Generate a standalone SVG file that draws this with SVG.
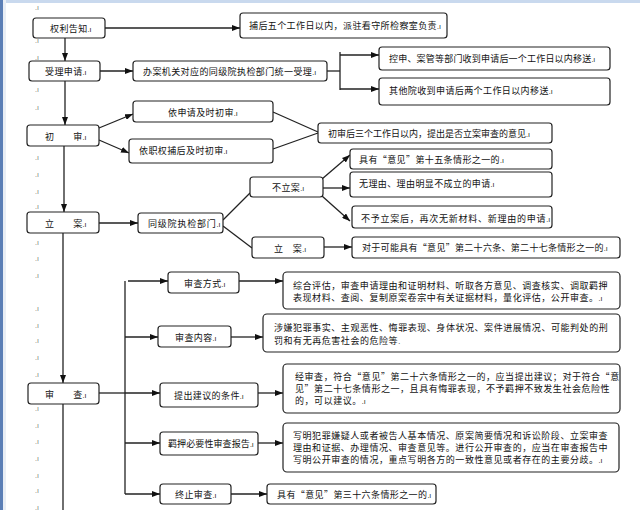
<svg xmlns="http://www.w3.org/2000/svg" width="640" height="510" viewBox="0 0 640 510">
<style>
.bx{fill:#fff;stroke:#222;stroke-width:1.2}
.t{font-family:"Noto Sans CJK SC","Noto Sans CJK JP",sans-serif;font-size:9px;fill:#111;letter-spacing:0.4px}
.w{letter-spacing:0.55px}
.n{letter-spacing:0px}
.pm{font-family:"Liberation Sans",sans-serif;font-size:7px;letter-spacing:0}
.mg{font-family:"Liberation Sans",sans-serif;font-size:7px;fill:#777}
.c{fill:none;stroke:#222;stroke-width:1.3}
.a{marker-end:url(#ah)}
</style>
<defs>
<marker id="ah" markerUnits="userSpaceOnUse" markerWidth="8" markerHeight="6" refX="8" refY="3" orient="auto">
<path d="M0,0 L8,3 L0,6 z" fill="#111"/>
</marker>
</defs>
<rect x="0" y="0" width="640" height="510" fill="#fff"/>
<rect x="0" y="0" width="640" height="3" fill="#c9d9ee"/>
<rect x="0" y="0" width="3" height="510" fill="#5b7fb6"/>
<rect x="3" y="0" width="3" height="510" fill="#e9eef5"/>
<g id="margin-marks">
<text class="mg" x="35" y="10">.ı</text><text class="mg" x="35" y="43">.ı</text><text class="mg" x="35" y="60">.ı</text><text class="mg" x="35" y="92">.ı</text><text class="mg" x="35" y="110">.ı</text><text class="mg" x="35" y="160">.ı</text><text class="mg" x="35" y="177">.ı</text><text class="mg" x="35" y="194">.ı</text><text class="mg" x="35" y="209">.ı</text><text class="mg" x="35" y="245">.ı</text><text class="mg" x="35" y="261">.ı</text><text class="mg" x="35" y="278">.ı</text><text class="mg" x="35" y="311">.ı</text><text class="mg" x="35" y="328">.ı</text><text class="mg" x="35" y="343">.ı</text><text class="mg" x="35" y="360">.ı</text><text class="mg" x="35" y="377">.ı</text><text class="mg" x="35" y="411">.ı</text><text class="mg" x="35" y="428">.ı</text><text class="mg" x="35" y="444">.ı</text><text class="mg" x="35" y="461">.ı</text><text class="mg" x="35" y="478">.ı</text><text class="mg" x="35" y="493">.ı</text><text class="mg" x="35" y="510">.ı</text>
</g>
<g id="connectors">
<line class="c a" x1="105" y1="28" x2="240" y2="28"/>
<line class="c a" x1="65" y1="38" x2="65" y2="61"/>
<line class="c a" x1="100" y1="71" x2="133" y2="71"/>
<line class="c" x1="327" y1="71" x2="340" y2="71"/>
<line class="c" x1="340" y1="52" x2="340" y2="90"/>
<line class="c a" x1="340" y1="55" x2="379" y2="55"/>
<line class="c a" x1="340" y1="89" x2="379" y2="89"/>
<line class="c a" x1="65" y1="81" x2="65" y2="125"/>
<line class="c a" x1="99" y1="128" x2="133" y2="114"/>
<line class="c a" x1="99" y1="140" x2="129" y2="153"/>
<line class="c" x1="273" y1="112" x2="318" y2="132"/>
<line class="c" x1="273" y1="149" x2="318" y2="133"/>
<line class="c a" x1="64" y1="146" x2="64" y2="212"/>
<line class="c a" x1="99" y1="223" x2="138" y2="223"/>
<line class="c" x1="223" y1="220" x2="250" y2="193"/>
<line class="c" x1="223" y1="226" x2="252" y2="248"/>
<line class="c a" x1="322" y1="179" x2="350" y2="155"/>
<line class="c a" x1="323" y1="188" x2="350" y2="188"/>
<line class="c a" x1="322" y1="196" x2="350" y2="221"/>
<line class="c a" x1="324" y1="247" x2="352" y2="247"/>
<line class="c a" x1="63" y1="233" x2="63" y2="383"/>
<line class="c" x1="63" y1="404" x2="63" y2="510"/>
<line class="c" x1="99" y1="393" x2="125" y2="393"/>
<line class="c" x1="125" y1="281" x2="125" y2="494"/>
<line class="c a" x1="128" y1="281" x2="168" y2="281"/>
<line class="c a" x1="125" y1="337" x2="158" y2="337"/>
<line class="c a" x1="125" y1="393" x2="160" y2="393"/>
<line class="c a" x1="125" y1="443" x2="160" y2="443"/>
<line class="c a" x1="125" y1="494" x2="160" y2="494"/>
<line class="c a" x1="239" y1="281" x2="283" y2="281"/>
<line class="c a" x1="231" y1="337" x2="263" y2="337"/>
<line class="c a" x1="258" y1="393" x2="283" y2="393"/>
<line class="c a" x1="258" y1="443" x2="283" y2="443"/>
<line class="c a" x1="231" y1="494" x2="267" y2="494"/>
</g>
<g id="n-quanli"><rect class="bx" x="33" y="18" width="72" height="20" rx="3"/><text class="t" x="50" y="31.5">权利告知<tspan class="pm">.ı</tspan></text></g>
<g id="n-bu"><rect class="bx" x="240" y="13" width="207" height="25" rx="3"/><text class="t" x="249" y="29">捕后五个工作日以内，派驻看守所检察室负责<tspan class="pm">.ı</tspan></text></g>
<g id="n-shouli"><rect class="bx" x="29" y="61" width="71" height="20" rx="3"/><text class="t" x="45" y="74.5">受理申请<tspan class="pm">.ı</tspan></text></g>
<g id="n-banan"><rect class="bx" x="133" y="61" width="194" height="20" rx="3"/><text class="t" x="143" y="74.5">办案机关对应的同级院执检部门统一受理<tspan class="pm">.ı</tspan></text></g>
<g id="n-kongshen"><rect class="bx" x="379" y="47" width="231" height="23" rx="3"/><text class="t" x="389" y="62" style="letter-spacing:0.2px">控申、案管等部门收到申请后一个工作日以内移送<tspan class="pm">.ı</tspan></text></g>
<g id="n-qita"><rect class="bx" x="379" y="78" width="231" height="27" rx="3"/><text class="t" x="389" y="94">其他院收到申请后两个工作日以内移送<tspan class="pm">.ı</tspan></text></g>
<g id="n-yishenqing"><rect class="bx" x="133" y="101" width="140" height="21" rx="3"/><text class="t" x="168" y="115.5">依申请及时初审<tspan class="pm">.ı</tspan></text></g>
<g id="n-chushen"><rect class="bx" x="27" y="125" width="72" height="21" rx="3"/><text class="t" x="45" y="139.5">初　　审<tspan class="pm">.ı</tspan></text></g>
<g id="n-yizhiquan"><rect class="bx" x="129" y="139" width="144" height="24" rx="3"/><text class="t" x="139" y="154">依职权捕后及时初审<tspan class="pm">.ı</tspan></text></g>
<g id="n-chushenhou"><rect class="bx" x="318" y="123" width="234" height="20" rx="3"/><text class="t n" x="328" y="136.5">初审后三个工作日以内，提出是否立案审查的意见<tspan class="pm">.ı</tspan></text></g>
<g id="n-lian"><rect class="bx" x="27" y="212" width="72" height="21" rx="3"/><text class="t" x="45" y="226.5">立　　案<tspan class="pm">.ı</tspan></text></g>
<g id="n-tongji"><rect class="bx" x="138" y="213" width="85" height="20" rx="3"/><text class="t" style="letter-spacing:0.8px" x="148" y="226.5">同级院执检部门<tspan class="pm">.ı</tspan></text></g>
<g id="n-bulian"><rect class="bx" x="250" y="177" width="73" height="20" rx="3"/><text class="t" x="272" y="190.5">不立案<tspan class="pm">.ı</tspan></text></g>
<g id="n-lian2"><rect class="bx" x="252" y="237" width="72" height="21" rx="3"/><text class="t" x="274" y="251.5">立　案<tspan class="pm">.ı</tspan></text></g>
<g id="n-shiwu"><rect class="bx" x="350" y="149" width="202" height="20" rx="3"/><text class="t" x="359" y="162.5">具有“意见”第十五条情形之一的<tspan class="pm">.ı</tspan></text></g>
<g id="n-wuliyou"><rect class="bx" x="350" y="172" width="202" height="25" rx="3"/><text class="t" x="359" y="187">无理由、理由明显不成立的申请<tspan class="pm">.ı</tspan></text></g>
<g id="n-buyu"><rect class="bx" x="352" y="206" width="200" height="22" rx="3"/><text class="t" style="letter-spacing:0.75px" x="361" y="221.5">不予立案后，再次无新材料、新理由的申请<tspan class="pm">.ı</tspan></text></g>
<g id="n-duiyu"><rect class="bx" x="352" y="237" width="268" height="21" rx="3"/><text class="t" style="letter-spacing:0.3px" x="362" y="251">对于可能具有“意见”第二十六条、第二十七条情形之一的<tspan class="pm">.ı</tspan></text></g>
<g id="n-shencha"><rect class="bx" x="28" y="383" width="71" height="21" rx="3"/><text class="t" x="45" y="397.5">审　　查<tspan class="pm">.ı</tspan></text></g>
<g id="n-fangshi"><rect class="bx" x="168" y="272" width="71" height="21" rx="3"/><text class="t" x="184" y="286.5">审查方式<tspan class="pm">.ı</tspan></text></g>
<g id="n-zonghe"><rect class="bx" x="283" y="272" width="337" height="37" rx="4"/><text class="t w" x="293" y="288.5">综合评估，审查申请理由和证明材料、听取各方意见、调查核实、调取羁押</text><text class="t w" x="293" y="300.5">表现材料、查阅、复制原案卷宗中有关证据材料，量化评估，公开审查。<tspan class="pm">.ı</tspan></text></g>
<g id="n-neirong"><rect class="bx" x="158" y="326" width="73" height="21" rx="3"/><text class="t" x="175" y="340.5">审查内容<tspan class="pm">.ı</tspan></text></g>
<g id="n-shexian"><rect class="bx" x="263" y="314" width="357" height="38" rx="4"/><text class="t w" x="274" y="330.5">涉嫌犯罪事实、主观恶性、悔罪表现、身体状况、案件进展情况、可能判处的刑</text><text class="t w" x="274" y="343.5">罚和有无再危害社会的危险等<tspan class="pm">.</tspan></text></g>
<g id="n-tichu"><rect class="bx" x="160" y="383" width="98" height="24" rx="3"/><text class="t" x="174" y="398.5">提出建议的条件<tspan class="pm">.ı</tspan></text></g>
<g id="n-jingshencha"><rect class="bx" x="283" y="364" width="337" height="49" rx="4"/><text class="t w" x="295" y="380">经审查，符合“意见”第二十六条情形之一的，应当提出建议；对于符合“意</text><text class="t w" x="295" y="392">见”第二十七条情形之一，且具有悔罪表现，不予羁押不致发生社会危险性</text><text class="t w" x="295" y="404">的，可以建议。<tspan class="pm">.ı</tspan></text></g>
<g id="n-jiya"><rect class="bx" x="160" y="432" width="98" height="23" rx="3"/><text class="t" style="letter-spacing:0.1px" x="168" y="447">羁押必要性审查报告<tspan class="pm">.ı</tspan></text></g>
<g id="n-xieming"><rect class="bx" x="283" y="423" width="336" height="49" rx="4"/><text class="t w" x="293" y="439">写明犯罪嫌疑人或者被告人基本情况、原案简要情况和诉讼阶段、立案审查</text><text class="t w" x="293" y="451">理由和证据、办理情况、审查意见等。进行公开审查的，应当在审查报告中</text><text class="t w" x="293" y="463">写明公开审查的情况，重点写明各方的一致性意见或者存在的主要分歧。<tspan class="pm">.ı</tspan></text></g>
<g id="n-zhongzhi"><rect class="bx" x="160" y="484" width="71" height="20" rx="3"/><text class="t" x="175" y="497.5">终止审查<tspan class="pm">.ı</tspan></text></g>
<g id="n-sanshiliu"><rect class="bx" x="267" y="484" width="169" height="20" rx="3"/><text class="t" x="277" y="497.5">具有“意见”第三十六条情形之一的<tspan class="pm">.ı</tspan></text></g>
</svg>
